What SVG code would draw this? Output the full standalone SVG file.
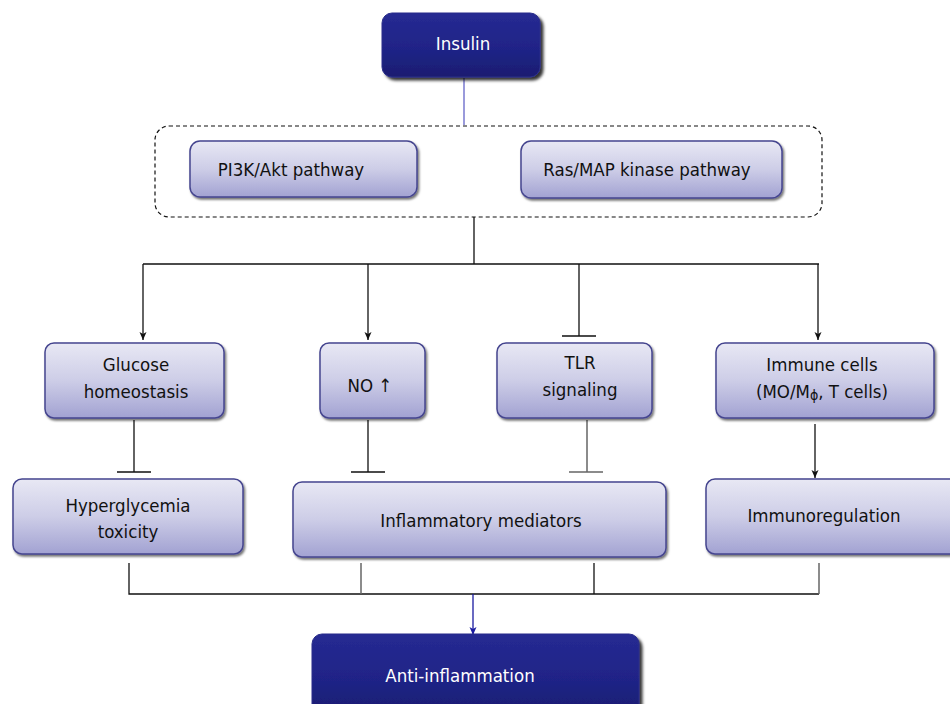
<svg xmlns="http://www.w3.org/2000/svg" width="950" height="704" viewBox="0 0 950 704">
<defs>
<linearGradient id="lg" x1="0" y1="0" x2="0" y2="1">
<stop offset="0" stop-color="#e8e8f4"/>
<stop offset="0.5" stop-color="#cdcde7"/>
<stop offset="1" stop-color="#a2a2d2"/>
</linearGradient>
<linearGradient id="dg" x1="0" y1="0" x2="0" y2="1">
<stop offset="0" stop-color="#262a92"/>
<stop offset="0.6" stop-color="#1f2386"/>
<stop offset="1" stop-color="#1a1d70"/>
</linearGradient>
<filter id="sh" x="-10%" y="-10%" width="125%" height="130%">
<feDropShadow dx="1.5" dy="2" stdDeviation="1.2" flood-color="#000" flood-opacity="0.55"/>
</filter>
<filter id="shd" x="-10%" y="-10%" width="125%" height="130%">
<feDropShadow dx="3" dy="3" stdDeviation="1.5" flood-color="#000" flood-opacity="0.8"/>
</filter>
<marker id="ar" markerUnits="userSpaceOnUse" markerWidth="10" markerHeight="10" refX="8" refY="4" orient="auto">
<path d="M0,0.5 L8,4 L0,7.5 L2,4 z" fill="#111"/>
</marker>
<marker id="arb" markerUnits="userSpaceOnUse" markerWidth="10" markerHeight="10" refX="8" refY="4" orient="auto">
<path d="M0,0.5 L8,4 L0,7.5 L2,4 z" fill="#1a1aa0"/>
</marker>
<style>
.lb{fill:url(#lg);stroke:#45458f;stroke-width:1.5;filter:url(#sh)}
.db{fill:url(#dg);stroke:#2a2e8a;stroke-width:1;filter:url(#shd)}
.t{font-family:"DejaVu Sans Condensed","DejaVu Sans",sans-serif;font-size:18.5px;fill:#111;text-anchor:middle}
.tw{font-family:"DejaVu Sans Condensed","DejaVu Sans",sans-serif;font-size:18.5px;fill:#fff;text-anchor:middle}
.c{stroke:#111;stroke-width:1.3;fill:none}
.g{stroke:#666;stroke-width:1.5;fill:none}
</style>
</defs>
<rect width="950" height="704" fill="#fff"/>

<g id="connectors">
<path d="M464,78 V125" stroke="#6464c8" stroke-width="1.3" fill="none"/>
<rect x="155" y="126" width="667" height="91" rx="14" fill="none" stroke="#111" stroke-width="1.2" stroke-dasharray="4,3"/>
<path class="c" d="M474,217 V264 M143,264 H819"/>
<path class="c" d="M143,264 V340" marker-end="url(#ar)"/>
<path class="c" d="M368,264 V340" marker-end="url(#ar)"/>
<path class="c" d="M579,264 V336 M562,336 H596"/>
<path class="c" d="M818,264 V340" marker-end="url(#ar)"/>
<path class="c" d="M134,420 V472 M117,472 H151"/>
<path class="c" d="M368,420 V472 M351,472 H385"/>
<path class="g" d="M587,420 V472 M569,472 H603"/>
<path class="c" d="M815,424 V478" marker-end="url(#ar)"/>
<path class="c" d="M129,563 V594 H819"/>
<path class="g" d="M361,563 V594"/>
<path class="c" d="M594,563 V594"/>
<path class="g" d="M819,563 V594"/>
<path d="M473,594 V635" stroke="#1a1aa0" stroke-width="1.3" fill="none" marker-end="url(#arb)"/>
</g>

<g id="insulin">
<rect class="db" x="382" y="13" width="158" height="64" rx="10"/>
<text class="tw" x="463" y="50">Insulin</text>
</g>
<g id="pi3k">
<rect class="lb" x="190" y="141" width="227" height="56" rx="10"/>
<text class="t" x="291" y="176">PI3K/Akt pathway</text>
</g>
<g id="ras">
<rect class="lb" x="521" y="141" width="261" height="57" rx="10"/>
<text class="t" x="647" y="176">Ras/MAP kinase pathway</text>
</g>
<g id="glucose">
<rect class="lb" x="45" y="343" width="179" height="75" rx="9"/>
<text class="t" x="136" y="371">Glucose</text>
<text class="t" x="136" y="398">homeostasis</text>
</g>
<g id="no">
<rect class="lb" x="320" y="343" width="105" height="75" rx="9"/>
<text class="t" x="370" y="392">NO ↑</text>
</g>
<g id="tlr">
<rect class="lb" x="497" y="343" width="155" height="75" rx="9"/>
<text class="t" x="580" y="369">TLR</text>
<text class="t" x="580" y="396">signaling</text>
</g>
<g id="immune">
<rect class="lb" x="716" y="343" width="218" height="75" rx="9"/>
<text class="t" x="822" y="371">Immune cells</text>
<text class="t" x="822" y="398">(MO/M<tspan font-size="14" dy="2">ϕ</tspan><tspan dy="-2">, T cells)</tspan></text>
</g>
<g id="hyper">
<rect class="lb" x="13" y="479" width="230" height="75" rx="9"/>
<text class="t" x="128" y="512">Hyperglycemia</text>
<text class="t" x="128" y="538">toxicity</text>
</g>
<g id="inflam">
<rect class="lb" x="293" y="482" width="373" height="75" rx="9"/>
<text class="t" x="481" y="527">Inflammatory mediators</text>
</g>
<g id="immunoreg">
<rect class="lb" x="706" y="479" width="262" height="75" rx="9"/>
<text class="t" x="824" y="522">Immunoregulation</text>
</g>
<g id="anti">
<rect class="db" x="312" y="634" width="327" height="80" rx="10"/>
<text class="tw" x="460" y="682">Anti-inflammation</text>
</g>
</svg>
